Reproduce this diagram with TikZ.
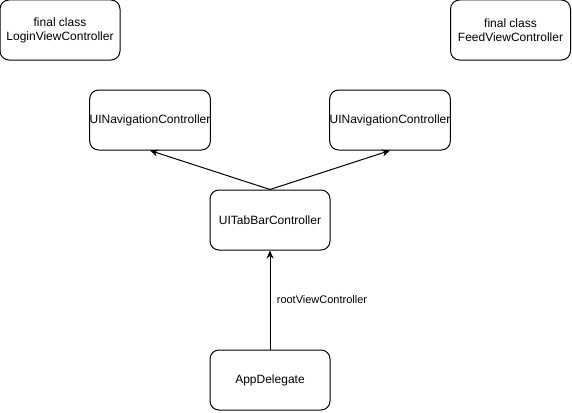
\documentclass[tikz,border=0pt]{standalone}
\usepackage{fontspec}
\setmainfont{Liberation Sans}
\usetikzlibrary{arrows.meta}
\newcommand{\ctrlBox}[3]{%
  \node[boxStyle] (#1) at (#2) {#3};
}

\begin{document}
\begin{tikzpicture}[x=1pt,y=-1pt,%
  boxStyle/.style={draw,line width=1pt,rounded corners=9pt,minimum width=120pt,minimum height=60pt,inner sep=0pt,align=center,font=\fontsize{12}{14}\selectfont},%
  arrowStyle/.style={-{Stealth[length=8pt,width=7pt,inset=2.5pt]},line width=1pt},%
  labelStyle/.style={font=\fontsize{11}{13}\selectfont}%
]
%
\useasboundingbox (0,0) rectangle (572,412);
%
% The view controllers.
\ctrlBox{loginVC}{60,30}{final class\\LoginViewController}
\ctrlBox{feedVC}{510.5,30}{final class\\FeedViewController}
% The navigation controllers.
\ctrlBox{navLeft}{150,120}{UINavigationController}
\ctrlBox{navRight}{390,120}{UINavigationController}
% Tab bar and app delegate.
\ctrlBox{tabBar}{270,220}{UITabBarController}
\ctrlBox{appDelegate}{270,380}{AppDelegate}
%
% Connectors.
\draw[arrowStyle] (tabBar.north) -- (navLeft.south);
\draw[arrowStyle] (tabBar.north) -- (navRight.south);
\draw[arrowStyle] (appDelegate.north) -- node[labelStyle,right=3pt] {rootViewController} (tabBar.south);
\end{tikzpicture}
\end{document}
